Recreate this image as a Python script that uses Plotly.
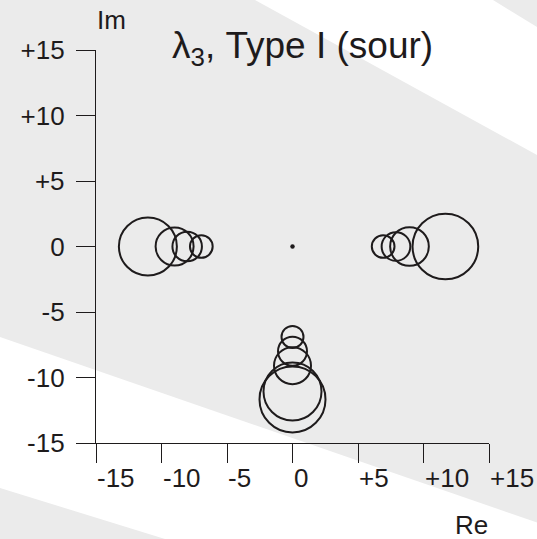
import plotly.graph_objects as go

# ---------------- data ----------------
re_vals = [-11.04, -9.0, -8.04, -6.96, 6.92, 7.9, 8.93, 11.67, 0, 0, 0, 0, 0]
im_vals = [0, 0, 0, 0, 0, 0, 0, 0, -6.9, -8.0, -9.1, -11.07, -11.67]
circle_diam = [60, 40, 31.5, 24.7, 24.7, 30.7, 40.7, 67.7, 24, 31, 39, 60, 68]
origin_re = [0]
origin_im = [0]

tick_vals = [-15, -10, -5, 0, 5, 10, 15]
tick_text = ["-15", "-10", "-5", "0", "+5", "+10", "+15"]

title_text = "λ<sub>3</sub>, Type I (sour)"
x_title = "Re"
y_title = "Im"

# ---------------- layout geometry ----------------
W, H = 537, 539
L, R, T, B = 96, 48, 50, 96
PW, PH = W - L - R, H - T - B
INK = "#1e1b1c"
FONT = "Liberation Sans, Arial, sans-serif"


def px(x):
    return (x - L) / PW


def py(y):
    return (H - B - y) / PH


def poly(points):
    return "M " + " L ".join(f"{px(a):.5f},{py(b):.5f}" for a, b in points) + " Z"


LW = 2.0
fig = go.Figure()
fig.add_trace(go.Scatter(
    x=re_vals, y=im_vals, mode="markers",
    marker=dict(symbol="circle-open", size=[d - LW for d in circle_diam],
                color=INK, opacity=1, line=dict(width=LW, color=INK)),
    hoverinfo="skip", showlegend=False, cliponaxis=False,
))
fig.add_trace(go.Scatter(
    x=origin_re, y=origin_im, mode="markers",
    marker=dict(symbol="circle", size=4.5, color=INK, opacity=1),
    hoverinfo="skip", showlegend=False,
))

shapes = [
    dict(type="path", xref="paper", yref="paper", layer="below",
         path=poly([(255, 0), (493, 0), (537, 27), (537, 155)]),
         fillcolor="white", line=dict(width=0)),
    dict(type="path", xref="paper", yref="paper", layer="below",
         path=poly([(0, 337), (537, 522.5), (537, 539), (165, 539), (0, 488)]),
         fillcolor="white", line=dict(width=0)),
]

annotations = []
for v, t in zip(tick_vals, tick_text):
    annotations.append(dict(
        x=v, xref="x", y=py(478), yref="paper", text=t, showarrow=False,
        xanchor="left", yanchor="middle", xshift=-1,
        font=dict(size=26, color=INK, family=FONT)))
annotations.append(dict(
    x=px(170), y=py(48), xref="paper", yref="paper", text=title_text,
    showarrow=False, xanchor="left", yanchor="middle",
    font=dict(size=37, color=INK, family=FONT)))
annotations.append(dict(
    x=px(95), y=py(20), xref="paper", yref="paper", text=y_title,
    showarrow=False, xanchor="left", yanchor="middle",
    font=dict(size=26, color=INK, family=FONT)))
annotations.append(dict(
    x=px(490), y=py(525), xref="paper", yref="paper", text=x_title,
    showarrow=False, xanchor="right", yanchor="middle",
    font=dict(size=26, color=INK, family=FONT)))

axis_common = dict(
    range=[-15, 15], tickvals=tick_vals, showgrid=False, zeroline=False,
    showline=True, linecolor=INK, linewidth=1.4,
    ticks="outside", ticklen=19, tickwidth=1.4, tickcolor=INK,
    fixedrange=True,
)

fig.update_layout(
    width=W, height=H,
    margin=dict(l=L, r=R, t=T, b=B, pad=0),
    paper_bgcolor="#ebebeb", plot_bgcolor="rgba(0,0,0,0)",
    xaxis=dict(**axis_common, showticklabels=False),
    yaxis=dict(**axis_common, ticktext=tick_text, showticklabels=True,
               tickfont=dict(size=26, color=INK, family=FONT),
               ticklabelstandoff=6),
    shapes=shapes, annotations=annotations,
    font=dict(family=FONT, color=INK),
    showlegend=False,
)

fig.write_html("out.html", config={"displayModeBar": False})
